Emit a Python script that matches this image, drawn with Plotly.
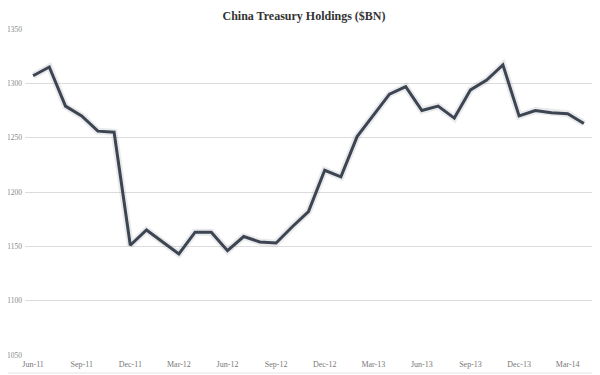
import plotly.graph_objects as go

months = ["Jun-11", "Jul-11", "Aug-11", "Sep-11", "Oct-11", "Nov-11", "Dec-11",
          "Jan-12", "Feb-12", "Mar-12", "Apr-12", "May-12", "Jun-12", "Jul-12",
          "Aug-12", "Sep-12", "Oct-12", "Nov-12", "Dec-12", "Jan-13", "Feb-13",
          "Mar-13", "Apr-13", "May-13", "Jun-13", "Jul-13", "Aug-13", "Sep-13",
          "Oct-13", "Nov-13", "Dec-13", "Jan-14", "Feb-14", "Mar-14", "Apr-14"]
holdings = [1307, 1315, 1279, 1270, 1256, 1255, 1151,
            1165, 1154, 1143, 1163, 1163, 1146, 1159,
            1154, 1153, 1168, 1182, 1220, 1214, 1251,
            1270, 1290, 1297, 1275, 1279, 1268, 1294,
            1303, 1317, 1270, 1275, 1273, 1272, 1263]
tick_labels = ["Jun-11", "Sep-11", "Dec-11", "Mar-12", "Jun-12", "Sep-12",
               "Dec-12", "Mar-13", "Jun-13", "Sep-13", "Dec-13", "Mar-14"]
y_ticks = [1050, 1100, 1150, 1200, 1250, 1300, 1350]

W, H = 592, 367  # page body has an 8px margin
L, R, T, B = 17, 8, 21, 20
PW, PH = W - L - R, H - T - B

fig = go.Figure()
fig.add_trace(go.Scatter(x=months, y=holdings, mode="lines",
                         line=dict(color="rgba(120,125,135,0.16)", width=7),
                         hoverinfo="skip", showlegend=False))
fig.add_trace(go.Scatter(x=months, y=holdings, mode="lines",
                         line=dict(color="#3d4452", width=3),
                         showlegend=False))

fig.update_layout(
    width=W, height=H,
    margin=dict(l=L, r=R, t=T, b=B),
    paper_bgcolor="white", plot_bgcolor="white",
    title=dict(text="<b>China Treasury Holdings ($BN)</b>", x=0.5, xanchor="center",
               y=1 - 8 / H, yanchor="middle",
               font=dict(family="Liberation Serif, DejaVu Serif, serif", size=12, color="#333333")),
    xaxis=dict(type="category", range=[-0.5, len(months) - 0.5], automargin=False,
               tickmode="array", tickvals=tick_labels, ticktext=tick_labels,
               showgrid=False, showline=False, ticks="", zeroline=False,
               ticklabelstandoff=3,
               tickfont=dict(family="Liberation Serif, serif", size=8, color="#777777")),
    yaxis=dict(range=[1050, 1350], tickmode="array", tickvals=y_ticks, automargin=False,
               showgrid=True, gridcolor="#dcdcdc", gridwidth=1, zeroline=False,
               showline=False, ticks="", ticklabelstandoff=2,
               tickfont=dict(family="Liberation Serif, serif", size=7.5, color="#888888")),
    shapes=[
        dict(type="line", xref="paper", yref="paper",
             x0=1 + 5 / PW, x1=1 + 5 / PW, y0=-18 / PH, y1=1 + T / PH,
             line=dict(color="#e4e4e4", width=1)),
        dict(type="line", xref="paper", yref="paper",
             x0=-L / PW, x1=1 + 5 / PW, y0=-18 / PH, y1=-18 / PH,
             line=dict(color="#e4e4e4", width=1)),
    ],
)

fig.write_html("out.html")
